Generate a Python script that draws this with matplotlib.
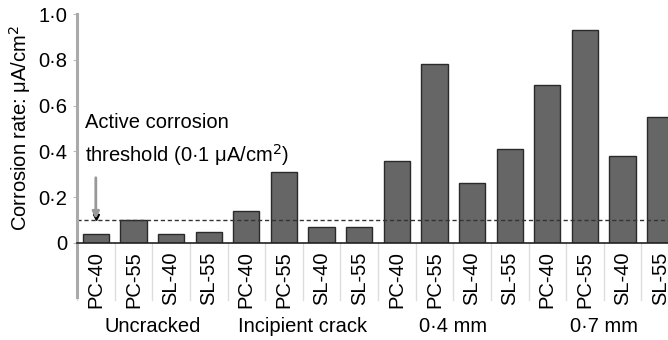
import matplotlib.pyplot as plt
import numpy as np

plt.rcParams['font.family'] = ['Liberation Sans', 'DejaVu Sans']

# Data
groups = ["Uncracked", "Incipient crack", "0·4 mm", "0·7 mm"]
specimens = ["PC-40", "PC-55", "SL-40", "SL-55"]
rates = [0.04, 0.10, 0.04, 0.05,
         0.14, 0.31, 0.07, 0.07,
         0.36, 0.78, 0.26, 0.41,
         0.69, 0.93, 0.38, 0.55]
threshold = 0.1
yticks = [0, 0.2, 0.4, 0.6, 0.8, 1.0]
ytick_labels = ["0", "0·2", "0·4", "0·6", "0·8", "1·0"]

labels = specimens * len(groups)
x = np.arange(len(rates))

fig = plt.figure(figsize=(6.68, 3.40), dpi=100)
ax = fig.add_axes([77 / 668, 1 - 243 / 340, (679 - 77) / 668, 229 / 340])

ax.bar(x, rates, width=0.7, color="#666666", edgecolor="#2a2a2a", linewidth=1.0)
ax.axhline(threshold, color="#333333", linestyle=(0, (3, 2)), linewidth=1.0)

ax.set_xlim(-0.5, len(rates) - 0.5)
ax.set_ylim(0, 1.0)
ax.set_yticks(yticks)
ax.set_yticklabels(ytick_labels, fontsize=14.5)
ax.tick_params(axis="y", length=3, color="#bbbbbb", pad=4)
ax.set_ylabel("Corrosion rate: μA/cm$^2$", fontsize=14.5, labelpad=4)

ax.spines["top"].set_visible(False)
ax.spines["right"].set_visible(False)
ax.spines["left"].set_color("#aaaaaa")
ax.spines["left"].set_linewidth(2.2)
ax.spines["bottom"].set_color("#222222")
ax.spines["bottom"].set_linewidth(1.2)

# tick labels below, rotated
ax.set_xticks(x)
ax.set_xticklabels(labels, rotation=90, fontsize=14.5)
ax.tick_params(axis="x", length=0, pad=6)

# light separators below the axis
for i in range(len(rates) + 1):
    xs = i - 0.5
    ax.plot([xs, xs], [0, -0.25], color="#dddddd", linewidth=1.0,
            clip_on=False, zorder=0)
ax.plot([-0.5, -0.5], [0, -0.235], color="#aaaaaa", linewidth=2.2,
        clip_on=False)

# group labels
for g, name in enumerate(groups):
    ax.text(g * 4 + 1.5, -0.365, name, ha="center", va="center",
            fontsize=14.5, transform=ax.transData)

# threshold annotation
ax.text(-0.3, 0.525, "Active corrosion", fontsize=14.5, va="center")
ax.text(-0.3, 0.385, "threshold (0·1 μA/cm$^2$)", fontsize=14.5, va="center")
ax.annotate("", xy=(0.0, 0.105), xytext=(0.0, 0.285),
            arrowprops=dict(arrowstyle="-|>", color="#999999", lw=2.0,
                            mutation_scale=10, shrinkA=0, shrinkB=0))
ax.plot([0.0], [0.113], marker="v", color="black", markersize=4)

fig.savefig("out.png", dpi=100)
